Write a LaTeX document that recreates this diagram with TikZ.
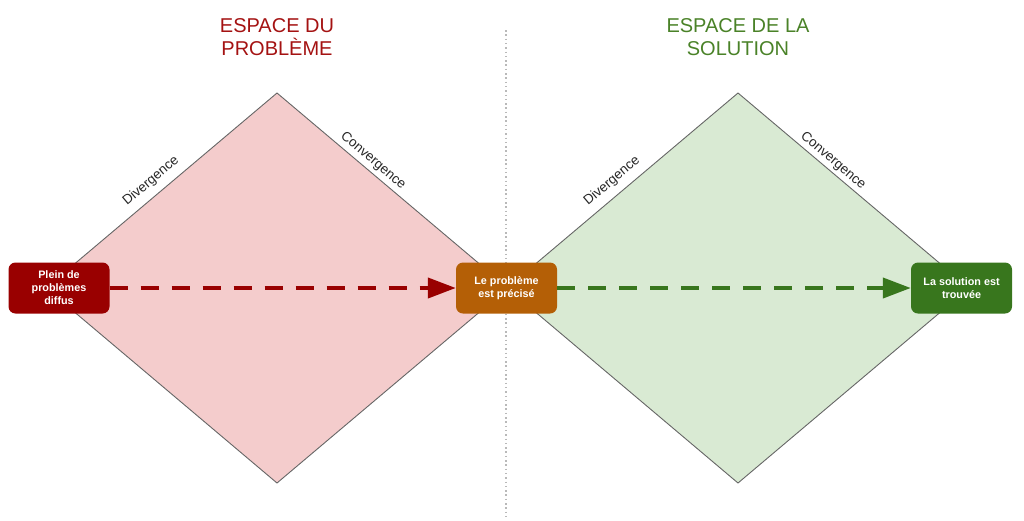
\documentclass[tikz,border=0pt]{standalone}
\usepackage{fontspec}
\setmainfont{Liberation Sans}
\usetikzlibrary{arrows.meta}
\definecolor{titlered}{RGB}{164,18,18}
\definecolor{titlegreen}{RGB}{74,130,40}
\definecolor{boxred}{RGB}{153,0,0}
\definecolor{boxorange}{RGB}{180,95,6}
\definecolor{boxgreen}{RGB}{56,118,29}
\definecolor{pinkfill}{RGB}{244,204,204}
\definecolor{greenfill}{RGB}{217,234,211}
\definecolor{edgegray}{RGB}{102,102,102}
\definecolor{dotgray}{RGB}{185,185,185}
\tikzset{
  diam/.style={draw=edgegray, line width=0.9pt},
  titletext/.style={font=\fontsize{20}{23}\selectfont, align=center},
  edgelabel/.style={font=\fontsize{13.5}{15}\selectfont, text=black!85},
  stagebox/.style={rounded corners=7pt, minimum width=101pt, minimum height=51pt,
    text=white, font=\bfseries\fontsize{10.8}{13}\selectfont, align=center, inner sep=2pt},
  flow/.style={line width=4pt, dash pattern=on 18pt off 13pt,
    -{Triangle[length=28pt,width=20pt]}},
}
\begin{document}
\begin{tikzpicture}[x=1pt,y=-1pt]
\useasboundingbox (0,0) rectangle (1024,520);
% diamonds
\path[diam, fill=pinkfill] (277,93) -- (508,288) -- (277,483) -- (46,288) -- cycle;
\path[diam, fill=greenfill] (738,93) -- (969,288) -- (738,483) -- (507,288) -- cycle;
% divider
\draw[dotgray, line width=1.5pt, dash pattern=on 1.5pt off 2.8pt] (506,30) coordinate (dtop) -- (506,520) coordinate (dbot);
% titles
\node[titletext, text=titlered] (t1) at (277,37) {ESPACE DU\\PROBLÈME};
\node[titletext, text=titlegreen] (t2) at (738,37) {ESPACE DE LA\\SOLUTION};
% edge labels
\node[edgelabel, rotate=40] (d1) at (151,181) {Divergence};
\node[edgelabel, rotate=-40] (c1) at (373,161) {Convergence};
\node[edgelabel, rotate=40] (d2) at (612,181) {Divergence};
\node[edgelabel, rotate=-40] (c2) at (833,161) {Convergence};
% boxes
\node[stagebox, fill=boxred] (a) at (59,288) {Plein de\\problèmes\\diffus};
\node[stagebox, fill=boxorange] (b) at (506.5,288) {Le problème\\est précisé};
\node[stagebox, fill=boxgreen] (c) at (961.5,288) {La solution est\\trouvée};
% arrows
\draw[flow, boxred] (a.east) -- (b.west);
\draw[flow, boxgreen] (b.east) -- (c.west);
\end{tikzpicture}
\end{document}
